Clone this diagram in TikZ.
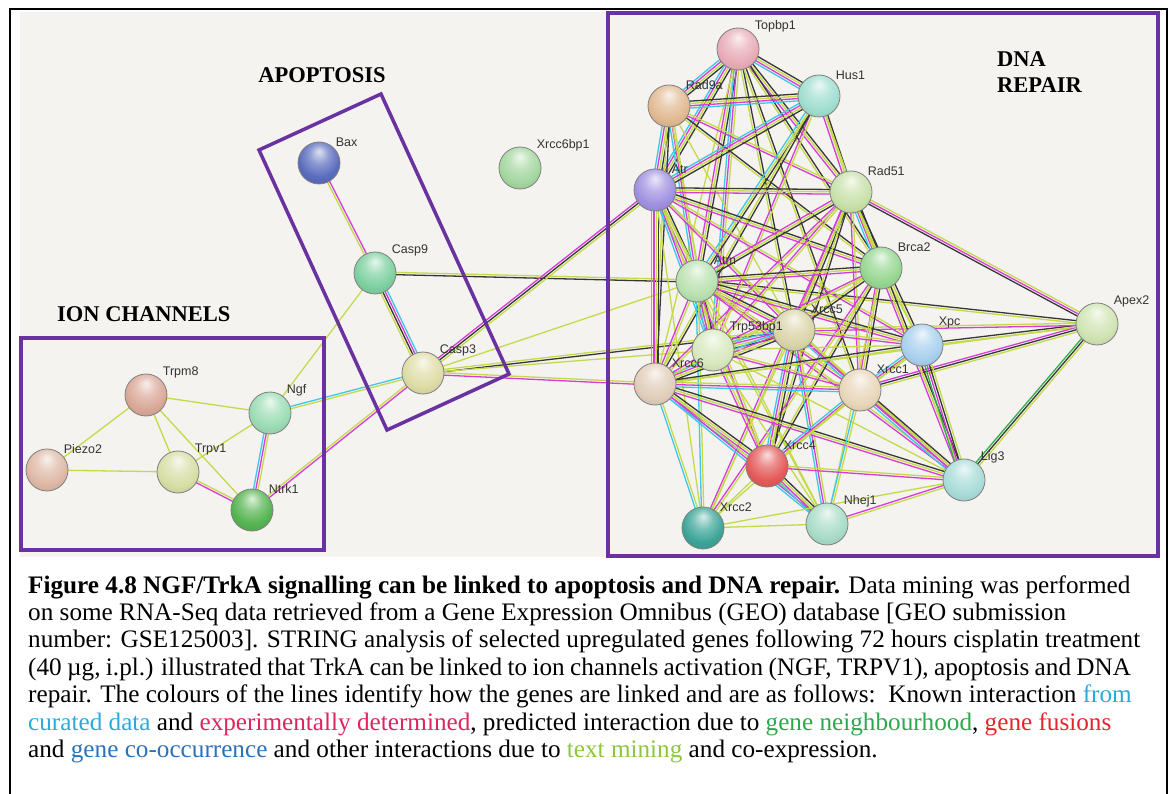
\documentclass[tikz,border=0pt]{standalone}
\usepackage{fontspec}
\setmainfont{Liberation Serif}
\newfontfamily\genefont{Liberation Sans}
\usetikzlibrary{calc}
\usetikzlibrary{backgrounds}
\definecolor{panelgrey}{RGB}{244,243,240}
\definecolor{boxpurple}{RGB}{106,50,160}
%% line colours
\definecolor{cur}{RGB}{60,200,232}
\definecolor{expd}{RGB}{214,60,214}
\definecolor{tm}{RGB}{196,218,72}
\definecolor{coex}{RGB}{55,55,55}
\definecolor{nbh}{RGB}{50,176,74}
%% caption colours
\definecolor{capcur}{RGB}{43,170,217}
\definecolor{capexp}{RGB}{224,36,94}
\definecolor{capnbh}{RGB}{45,168,78}
\definecolor{capfus}{RGB}{229,36,43}
\definecolor{capcoo}{RGB}{42,114,184}
\definecolor{captxt}{RGB}{141,198,65}
%% gene colours
\definecolor{cbax}{RGB}{90,108,190}
\definecolor{ccasp9}{RGB}{125,208,160}
\definecolor{ccasp3}{RGB}{222,220,165}
\definecolor{cxrcc6bp1}{RGB}{165,215,160}
\definecolor{ctrpm8}{RGB}{218,168,152}
\definecolor{cpiezo2}{RGB}{222,185,165}
\definecolor{ctrpv1}{RGB}{215,222,165}
\definecolor{cngf}{RGB}{155,220,180}
\definecolor{cntrk1}{RGB}{85,180,80}
\definecolor{ctopbp1}{RGB}{232,172,184}
\definecolor{crad9a}{RGB}{225,185,145}
\definecolor{chus1}{RGB}{160,222,208}
\definecolor{catr}{RGB}{160,145,225}
\definecolor{crad51}{RGB}{200,225,170}
\definecolor{catm}{RGB}{185,225,175}
\definecolor{cbrca2}{RGB}{150,215,145}
\definecolor{cxrcc5}{RGB}{218,212,168}
\definecolor{ctrp53bp1}{RGB}{215,232,190}
\definecolor{cxrcc6}{RGB}{225,205,185}
\definecolor{cxpc}{RGB}{168,208,238}
\definecolor{cxrcc1}{RGB}{232,214,185}
\definecolor{capex2}{RGB}{208,228,178}
\definecolor{cxrcc4}{RGB}{228,90,90}
\definecolor{clig3}{RGB}{168,220,216}
\definecolor{cxrcc2}{RGB}{60,165,152}
\definecolor{cnhej1}{RGB}{168,220,200}
\makeatletter
\pgfdeclareradialshading[tikz@ball]{sphere}{\pgfqpoint{0bp}{14bp}}{%
  color(0bp)=(tikz@ball!20!white);
  color(12bp)=(tikz@ball!70!white);
  color(24bp)=(tikz@ball);
  color(36bp)=(tikz@ball!88!black);
  color(50bp)=(tikz@ball!60!black)}
\makeatother
\newcommand\genelink[3]{% \genelink{from}{to}{line colours}
\edef\linelist{#3}%
\gdef\nlines{0}%
\foreach \col in \linelist {\pgfmathtruncatemacro\tmp{\nlines+1}\global\let\nlines\tmp}%
\foreach \col [count=\k] in \linelist {%
  \pgfmathsetmacro\off{(\k-(\nlines+1)/2)*2.3}%
  \draw[linkline,\col] ($(#1)!\off pt!90:(#2)$) -- ($(#2)!\off pt!-90:(#1)$);
}%
}
\tikzset{
  gene/.style={circle, minimum size=42pt, inner sep=0pt, ball color=#1, shading=sphere, draw=black!50, line width=0.8pt},
  genelabel/.style={font=\genefont\fontsize{12.5}{13}\selectfont, text=black!80, inner sep=1.5pt},
  linkline/.style={line width=1.3pt},
  grouptitle/.style={font=\bfseries\fontsize{22.5}{26}\selectfont, inner sep=0pt},
  groupbox/.style={draw=boxpurple, line width=3.5pt},
  capline/.style={anchor=base west, inner sep=0pt, font=\fontsize{25.2}{27}\selectfont}
}

\begin{document}
\begin{tikzpicture}[x=1pt,y=-1pt]
	\useasboundingbox (0,0) rectangle (1170,794);
	%% frame
	\draw[line width=1.2pt] (10,794) -- (10,9) -- (1167,9) -- (1167,794);
	%% ion channels
	\node[gene=ctrpm8, label={[genelabel]45:Trpm8}] (trpm8) at (146,395) {};
	\node[gene=cngf, label={[genelabel]45:Ngf}] (ngf) at (270,413) {};
	\node[gene=cpiezo2, label={[genelabel]45:Piezo2}] (piezo2) at (47,470) {};
	\node[gene=ctrpv1, label={[genelabel]45:Trpv1}] (trpv1) at (178,472) {};
	\node[gene=cntrk1, label={[genelabel]45:Ntrk1}] (ntrk1) at (252,510) {};
	%% apoptosis
	\node[gene=cbax, label={[genelabel]45:Bax}] (bax) at (319,163) {};
	\node[gene=ccasp9, label={[genelabel]45:Casp9}] (casp9) at (375,273) {};
	\node[gene=ccasp3, label={[genelabel]45:Casp3}] (casp3) at (423,373) {};
	\node[gene=cxrcc6bp1, label={[genelabel]45:Xrcc6bp1}] (xrcc6bp1) at (520,168) {};
	%% dna repair
	\node[gene=ctopbp1, label={[genelabel]45:Topbp1}] (topbp1) at (738,49) {};
	\node[gene=crad9a, label={[genelabel]45:Rad9a}] (rad9a) at (669,106) {};
	\node[gene=chus1, label={[genelabel]45:Hus1}] (hus1) at (819,96) {};
	\node[gene=catr, label={[genelabel]45:Atr}] (atr) at (655,190) {};
	\node[gene=crad51, label={[genelabel]45:Rad51}] (rad51) at (851,192) {};
	\node[gene=catm, label={[genelabel]45:Atm}] (atm) at (697,281) {};
	\node[gene=cbrca2, label={[genelabel]45:Brca2}] (brca2) at (881,268) {};
	\node[gene=cxrcc5, label={[genelabel]45:Xrcc5}] (xrcc5) at (794,330) {};
	\node[gene=ctrp53bp1, label={[genelabel]45:Trp53bp1}] (trp53bp1) at (713,350) {};
	\node[gene=cxrcc6, label={[genelabel]45:Xrcc6}] (xrcc6) at (655,384) {};
	\node[gene=cxpc, label={[genelabel]45:Xpc}] (xpc) at (922,345) {};
	\node[gene=cxrcc1, label={[genelabel]45:Xrcc1}] (xrcc1) at (860,390) {};
	\node[gene=capex2, label={[genelabel]45:Apex2}] (apex2) at (1097,324) {};
	\node[gene=cxrcc4, label={[genelabel]45:Xrcc4}] (xrcc4) at (767,466) {};
	\node[gene=clig3, label={[genelabel]45:Lig3}] (lig3) at (964,480) {};
	\node[gene=cxrcc2, label={[genelabel]45:Xrcc2}] (xrcc2) at (703,528) {};
	\node[gene=cnhej1, label={[genelabel]45:Nhej1}] (nhej1) at (827,524) {};
	%% links under the genes
	\begin{pgfonlayer}{background}
	\fill[panelgrey] (20,12) rectangle (1160,557);
	\genelink{trpm8}{ngf}{tm} \genelink{trpm8}{piezo2}{tm} \genelink{trpm8}{trpv1}{tm}
	\genelink{trpm8}{ntrk1}{tm} \genelink{piezo2}{trpv1}{tm} \genelink{trpv1}{ngf}{tm}
	\genelink{trpv1}{ntrk1}{expd,tm} \genelink{ngf}{ntrk1}{cur,expd,tm}
	\genelink{ngf}{casp9}{tm} \genelink{ngf}{casp3}{tm,cur} \genelink{ntrk1}{casp3}{expd,tm}
	\genelink{bax}{casp9}{tm,expd} \genelink{casp9}{casp3}{tm,coex,expd,cur}
	\genelink{casp9}{atm}{coex,tm} \genelink{casp3}{atr}{tm,coex,expd} \genelink{casp3}{atm}{tm}
	\genelink{casp3}{xrcc5}{coex,tm} \genelink{casp3}{trp53bp1}{tm} \genelink{casp3}{xrcc6}{expd,tm}
	%% apex2
	\genelink{apex2}{rad51}{tm,expd,coex} \genelink{apex2}{atm}{coex,tm} \genelink{apex2}{xpc}{coex,tm}
	\genelink{apex2}{xrcc1}{expd,coex,tm} \genelink{apex2}{lig3}{nbh,coex,tm}
	\genelink{apex2}{xrcc5}{tm,expd} \genelink{apex2}{xrcc6}{tm}
	%% dna repair cluster
	\genelink{topbp1}{rad9a}{cur,expd,tm,coex} \genelink{topbp1}{hus1}{cur,expd,tm,coex}
	\genelink{topbp1}{atr}{cur,expd,tm,coex} \genelink{topbp1}{rad51}{expd,tm,coex}
	\genelink{topbp1}{atm}{expd,tm,coex} \genelink{topbp1}{brca2}{tm,coex}
	\genelink{topbp1}{trp53bp1}{cur,expd,tm} \genelink{topbp1}{xrcc5}{tm,coex}
	\genelink{topbp1}{xrcc6}{tm} \genelink{topbp1}{xrcc1}{tm,coex}
	\genelink{rad9a}{hus1}{cur,expd,tm,coex} \genelink{rad9a}{atr}{cur,expd,tm,coex}
	\genelink{rad9a}{rad51}{expd,tm} \genelink{rad9a}{atm}{cur,expd,tm}
	\genelink{rad9a}{brca2}{tm,coex} \genelink{rad9a}{trp53bp1}{tm}
	\genelink{rad9a}{xrcc6}{tm,coex} \genelink{rad9a}{xrcc5}{tm}
	\genelink{hus1}{atr}{cur,expd,tm,coex} \genelink{hus1}{rad51}{expd,tm,coex}
	\genelink{hus1}{atm}{cur,tm,coex} \genelink{hus1}{brca2}{tm}
	\genelink{hus1}{trp53bp1}{expd,tm} \genelink{hus1}{xrcc6}{tm,coex}
	\genelink{atr}{rad51}{expd,tm,coex} \genelink{atr}{atm}{cur,expd,tm,coex}
	\genelink{atr}{brca2}{expd,tm,coex} \genelink{atr}{trp53bp1}{cur,expd,tm}
	\genelink{atr}{xrcc5}{expd,tm} \genelink{atr}{xrcc6}{cur,expd,tm,coex}
	\genelink{atr}{xpc}{expd,tm} \genelink{atr}{xrcc1}{tm} \genelink{atr}{xrcc4}{tm}
	\genelink{atr}{xrcc2}{tm} \genelink{atr}{nhej1}{tm}
	\genelink{rad51}{atm}{expd,tm,coex} \genelink{rad51}{brca2}{cur,expd,tm,coex}
	\genelink{rad51}{trp53bp1}{expd,tm} \genelink{rad51}{xrcc5}{expd,tm,coex}
	\genelink{rad51}{xrcc6}{expd,tm} \genelink{rad51}{xpc}{tm,coex}
	\genelink{rad51}{xrcc1}{expd,tm} \genelink{rad51}{xrcc4}{tm,coex}
	\genelink{rad51}{xrcc2}{expd,tm} \genelink{rad51}{lig3}{tm}
	\genelink{atm}{brca2}{expd,tm,coex} \genelink{atm}{trp53bp1}{cur,expd,tm,coex}
	\genelink{atm}{xrcc5}{expd,tm,coex} \genelink{atm}{xrcc6}{expd,tm}
	\genelink{atm}{xpc}{expd,tm,coex} \genelink{atm}{xrcc1}{expd,tm}
	\genelink{atm}{xrcc4}{expd,tm} \genelink{atm}{xrcc2}{cur,tm}
	\genelink{atm}{nhej1}{tm} \genelink{atm}{lig3}{expd,tm}
	\genelink{brca2}{trp53bp1}{expd,tm} \genelink{brca2}{xrcc5}{tm,coex}
	\genelink{brca2}{xrcc6}{tm} \genelink{brca2}{xpc}{tm}
	\genelink{brca2}{xrcc1}{expd,tm,coex} \genelink{brca2}{xrcc4}{tm,coex}
	\genelink{brca2}{xrcc2}{expd,tm} \genelink{brca2}{lig3}{expd,tm,coex}
	\genelink{brca2}{nhej1}{tm}
	\genelink{xrcc5}{trp53bp1}{cur,expd,tm,coex} \genelink{xrcc5}{xrcc6}{cur,expd,tm,coex}
	\genelink{xrcc5}{xpc}{expd,tm} \genelink{xrcc5}{xrcc1}{cur,expd,tm}
	\genelink{xrcc5}{xrcc4}{cur,expd,tm,coex} \genelink{xrcc5}{nhej1}{cur,expd,tm}
	\genelink{xrcc5}{lig3}{expd,tm} \genelink{xrcc5}{xrcc2}{tm}
	\genelink{trp53bp1}{xrcc6}{expd,tm} \genelink{trp53bp1}{xpc}{tm}
	\genelink{trp53bp1}{xrcc1}{expd,tm} \genelink{trp53bp1}{xrcc4}{expd,tm}
	\genelink{trp53bp1}{nhej1}{tm} \genelink{trp53bp1}{lig3}{tm}
	\genelink{xrcc6}{xpc}{tm,coex} \genelink{xrcc6}{xrcc1}{cur,expd,tm}
	\genelink{xrcc6}{xrcc4}{cur,expd,tm,coex} \genelink{xrcc6}{nhej1}{cur,expd,tm}
	\genelink{xrcc6}{lig3}{expd,tm,coex} \genelink{xrcc6}{xrcc2}{cur,tm}
	\genelink{xpc}{xrcc1}{cur,expd,tm} \genelink{xpc}{lig3}{nbh,expd,coex,tm}
	\genelink{xpc}{xrcc4}{tm}
	\genelink{xrcc1}{xrcc4}{cur,expd,tm} \genelink{xrcc1}{lig3}{cur,expd,tm,coex}
	\genelink{xrcc1}{nhej1}{cur,tm} \genelink{xrcc1}{xrcc2}{tm}
	\genelink{xrcc4}{lig3}{expd,tm} \genelink{xrcc4}{nhej1}{cur,expd,tm,coex}
	\genelink{xrcc4}{xrcc2}{tm}
	\genelink{lig3}{nhej1}{expd,tm} \genelink{lig3}{xrcc2}{tm} \genelink{nhej1}{xrcc2}{tm}
	\end{pgfonlayer}
	%% groups
	\draw[groupbox] (21,338) rectangle (324,550);
	\draw[groupbox] (259,150) -- (381,94) -- (509,374) -- (387,430) -- cycle;
	\draw[groupbox] (608,13) rectangle (1158,556);
	\node[grouptitle, anchor=base] (apotitle) at (322,83) {APOPTOSIS};
	\node[grouptitle, anchor=base west] (iontitle) at (57,322) {ION CHANNELS};
	\node[grouptitle, anchor=base west] (dnatitle) at (997,67) {DNA};
	\node[grouptitle, anchor=base west] (repairtitle) at (997,93) {REPAIR};
	%% caption
	\node[capline] (cap1) at (28,593) {\textbf{Figure 4.8 NGF/TrkA signalling can be linked to apoptosis and DNA repair.} Data mining was performed};
	\node[capline] (cap2) at (28,620.4) {on some RNA-Seq data retrieved from a Gene Expression Omnibus (GEO) database [GEO submission};
	\node[capline] (cap3) at (28,647.8) {number: GSE125003]. STRING analysis of selected upregulated genes following 72 hours cisplatin treatment};
	\node[capline] (cap4) at (28,675.2) {\spaceskip=5.4pt (40 µg, i.pl.) illustrated that TrkA can be linked to ion channels activation (NGF, TRPV1), apoptosis and DNA};
	\node[capline] (cap5) at (28,702.6) {repair. The colours of the lines identify how the genes are linked and are as follows:\ \ Known interaction \textcolor{capcur}{from}};
	\node[capline] (cap6) at (28,730) {\textcolor{capcur}{curated data} and \textcolor{capexp}{experimentally determined}, predicted interaction due to \textcolor{capnbh}{gene neighbourhood}, \textcolor{capfus}{gene fusions}};
	\node[capline] (cap7) at (28,757.4) {and \textcolor{capcoo}{gene co-occurrence} and other interactions due to \textcolor{captxt}{text mining} and co-expression.};
\end{tikzpicture}
\end{document}
